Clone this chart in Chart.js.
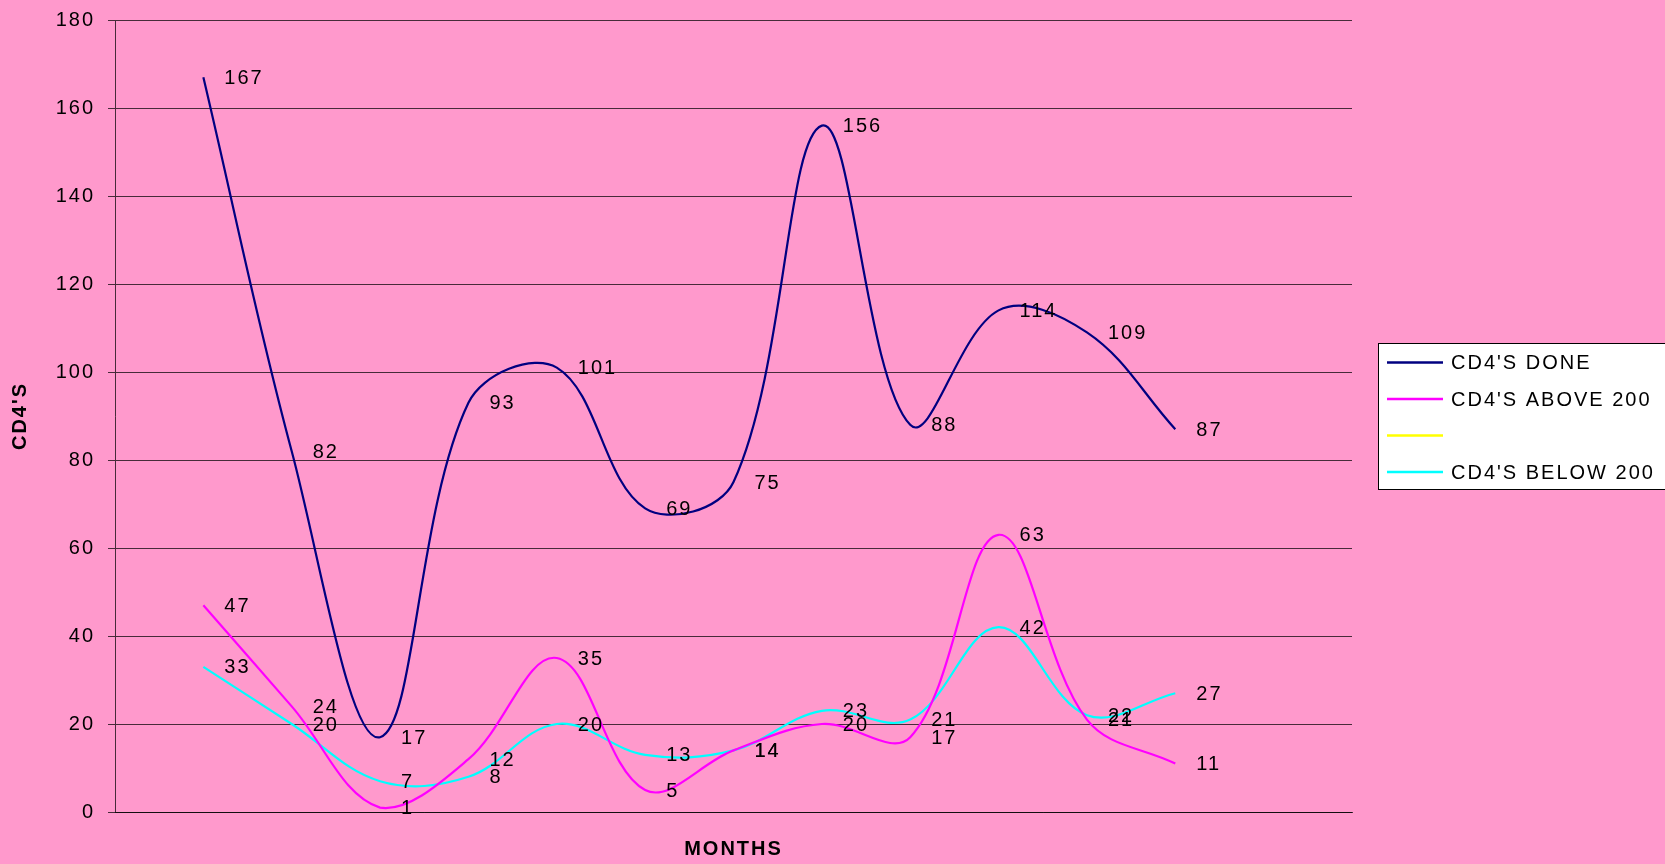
<!DOCTYPE html>
<html>
<head>
<meta charset="utf-8">
<script src="https://cdn.jsdelivr.net/npm/chart.js@4.4.1/dist/chart.umd.min.js"></script>
<style>
  html, body { margin: 0; padding: 0; background: #FF99CC; }
  #wrap { width: 1665px; height: 864px; }
</style>
</head>
<body>
<div id="wrap"><canvas id="grafico" width="1665" height="864"></canvas></div>
<script>
// datos
let monthSlots = [1, 2, 3, 4, 5, 6, 7, 8, 9, 10, 11, 12];
let cd4Done = [167, 82, 17, 93, 101, 69, 75, 156, 88, 114, 109, 87];
let cd4Above200 = [47, 24, 1, 12, 35, 5, 14, 20, 17, 63, 21, 11];
let cd4Blank = [];
let cd4Below200 = [33, 20, 7, 8, 20, 13, 14, 23, 21, 42, 22, 27];
let yTicks = [0, 20, 40, 60, 80, 100, 120, 140, 160, 180];

let seriesNames = ["CD4'S DONE", "CD4'S ABOVE 200", "", "CD4'S BELOW 200"];
let seriesColors = ["#000080", "#FF00FF", "#FFFF00", "#00FFFF"];

function puntos(valores) {
    return valores.map((v, i) => ({ x: monthSlots[i], y: v }));
}

let fuente = "'Liberation Sans', Arial, sans-serif";
let lineaGris = "rgba(0,0,0,0.72)";

// espaciado de letras como en Excel
const espaciado = {
    id: "espaciado",
    beforeUpdate(chart) { chart.ctx.letterSpacing = "2px"; },
    beforeDraw(chart) { chart.ctx.letterSpacing = "2px"; }
};

// etiquetas de valores a la derecha de cada punto
const etiquetas = {
    id: "etiquetas",
    afterDatasetsDraw(chart) {
        let ctx = chart.ctx;
        ctx.save();
        ctx.letterSpacing = "2px";
        ctx.font = "20px " + fuente;
        ctx.fillStyle = "#000";
        ctx.textAlign = "left";
        ctx.textBaseline = "middle";
        chart.data.datasets.forEach((ds, i) => {
            let meta = chart.getDatasetMeta(i);
            meta.data.forEach((pt, j) => {
                let v = ds.data[j].y;
                if (v === null || v === undefined) return;
                ctx.fillText(String(v), pt.x + 21, pt.y + 1);
            });
        });
        ctx.restore();
    }
};

// leyenda con caja blanca
const leyenda = {
    id: "leyenda",
    afterDraw(chart) {
        let ctx = chart.ctx;
        ctx.save();
        ctx.letterSpacing = "2px";
        ctx.fillStyle = "#FFFFFF";
        ctx.fillRect(1378, 343, 300, 146);
        ctx.strokeStyle = "#000";
        ctx.lineWidth = 1;
        ctx.strokeRect(1378.5, 343.5, 300, 146);
        ctx.font = "20px " + fuente;
        ctx.textAlign = "left";
        ctx.textBaseline = "middle";
        chart.data.datasets.forEach((ds, i) => {
            let y = 362.5 + i * 36.5;
            ctx.strokeStyle = ds.borderColor;
            ctx.lineWidth = 2.5;
            ctx.beginPath();
            ctx.moveTo(1387, y);
            ctx.lineTo(1443, y);
            ctx.stroke();
            ctx.fillStyle = "#000";
            ctx.fillText(ds.label, 1451, y + 1);
        });
        ctx.restore();
    }
};

let datasets = [cd4Done, cd4Above200, cd4Blank, cd4Below200].map((serie, i) => ({
    label: seriesNames[i],
    data: puntos(serie),
    borderColor: seriesColors[i],
    backgroundColor: seriesColors[i],
    borderWidth: 2.2,
    pointRadius: 0,
    tension: 0.37,
    fill: false
}));

const ctx = document.getElementById("grafico").getContext("2d");
window.myChart = new Chart(ctx, {
    type: "line",
    data: { datasets: datasets },
    options: {
        responsive: false,
        animation: false,
        layout: { padding: { left: 0, top: 20, right: 313, bottom: 0 } },
        plugins: {
            legend: { display: false },
            tooltip: { enabled: false }
        },
        scales: {
            x: {
                type: "linear",
                min: 0,
                max: 14,
                ticks: { display: false },
                grid: { display: false },
                border: { display: true, color: lineaGris, width: 1 },
                title: {
                    display: true,
                    text: "MONTHS",
                    color: "#000",
                    font: { family: fuente, size: 20, weight: "bold" },
                    padding: { top: 0, bottom: 3 }
                },
                afterFit(scale) { scale.height = 52; }
            },
            y: {
                min: 0,
                max: 180,
                afterBuildTicks(scale) { scale.ticks = yTicks.map(v => ({ value: v })); },
                ticks: {
                    color: "#000",
                    font: { family: fuente, size: 20 },
                    padding: 13
                },
                grid: { color: lineaGris, lineWidth: 1, tickLength: 7 },
                border: { display: true, color: lineaGris, width: 1 },
                title: {
                    display: true,
                    text: "CD4'S",
                    color: "#000",
                    font: { family: fuente, size: 20, weight: "bold" },
                    padding: { top: 8, bottom: 0 }
                },
                afterFit(scale) {
                    scale.width = 115;
                    scale.paddingTop = 0;
                    scale.paddingBottom = 0;
                }
            }
        }
    },
    plugins: [espaciado, etiquetas, leyenda]
});
</script>
</body>
</html>
